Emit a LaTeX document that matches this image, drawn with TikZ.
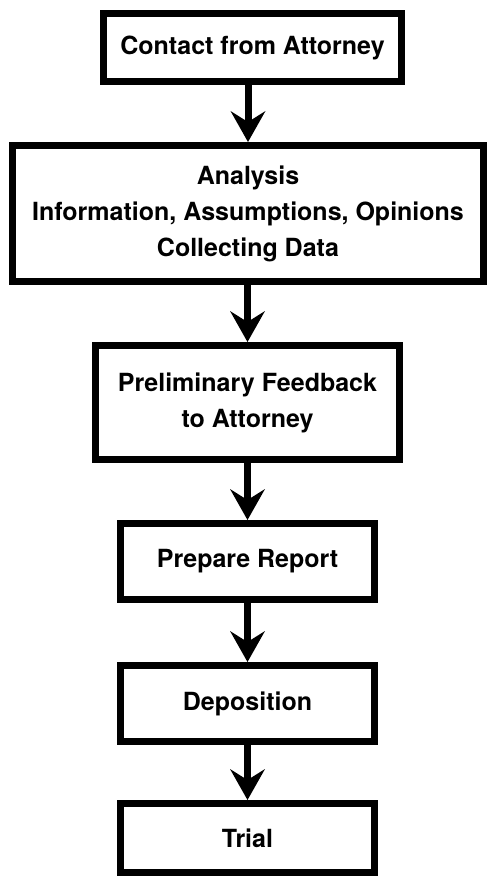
\documentclass[tikz,border=0pt]{standalone}
\usepackage{fontspec}
\setmainfont{TeX Gyre Heros}
\usetikzlibrary{arrows.meta}

\begin{document}
\begin{tikzpicture}[x=1pt, y=-1pt,
  font=\fontsize{25}{36}\selectfont\bfseries,
  stage/.style={draw, line width=7pt, inner sep=0pt, align=center},
  flow/.style={line width=7pt,
    -{Stealth[length=31pt, width=35pt, inset=11pt, line width=0pt]}}]

  \useasboundingbox (0,0) rectangle (491,877);

  % Stages, top to bottom
  \node[stage, minimum width=298pt, minimum height=68pt] (contact) at (252.5,47.5)
    {Contact from Attorney};
  \node[stage, minimum width=471pt, minimum height=136pt] (analysis) at (248,213.5)
    {Analysis\\Information, Assumptions, Opinions\\Collecting Data};
  \node[stage, minimum width=304pt, minimum height=114pt] (feedback) at (247.5,402.5)
    {Preliminary Feedback\\to Attorney};
  \node[stage, minimum width=254pt, minimum height=76pt] (report) at (247.5,561.5)
    {Prepare Report};
  \node[stage, minimum width=254pt, minimum height=76pt] (deposition) at (247.5,703.5)
    {Deposition};
  \node[stage, minimum width=254pt, minimum height=69pt] (trial) at (247.5,838)
    {Trial};

  % Arrows between stages
  \draw[flow] (contact.south -| analysis.north) -- (analysis.north);
  \foreach \a/\b in {analysis/feedback, feedback/report, report/deposition, deposition/trial} {
    \draw[flow] (\a.south -| \b.north) -- (\b.north);
  }

\end{tikzpicture}
\end{document}
